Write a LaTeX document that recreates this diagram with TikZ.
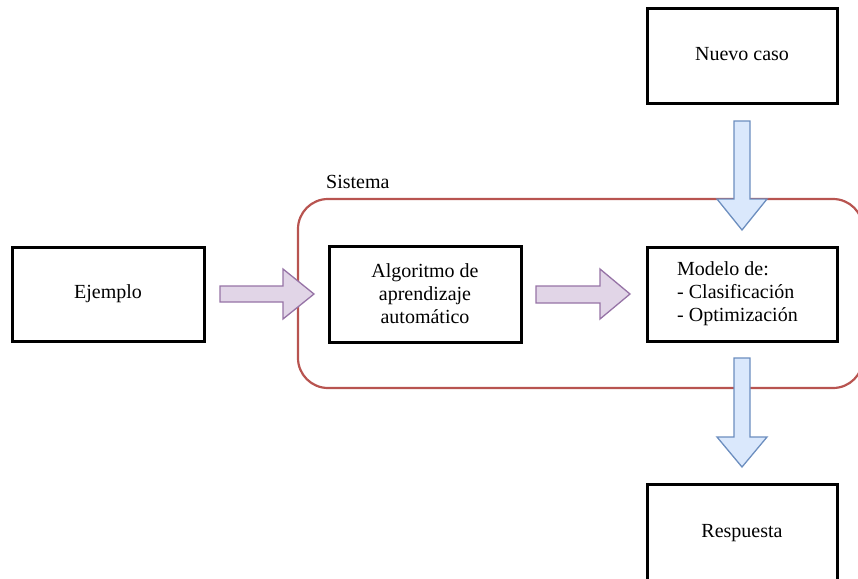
\documentclass[tikz,border=0pt]{standalone}
\usepackage{fontspec}
\setmainfont{Liberation Serif}
\begin{document}
\begin{tikzpicture}[x=1pt,y=-1pt,
  box/.style={draw=black,line width=3pt,fill=white},
  purplearrow/.style={draw={rgb,255:red,150;green,115;blue,166},fill={rgb,255:red,225;green,213;blue,231},line width=1.3pt,line join=miter},
  bluearrow/.style={draw={rgb,255:red,108;green,142;blue,191},fill={rgb,255:red,218;green,232;blue,252},line width=1.3pt,line join=miter},
  sysframe/.style={draw={rgb,255:red,184;green,84;blue,80},line width=2.2pt,rounded corners=30pt},
  lbl/.style={font=\fontsize{20}{23}\selectfont,align=center,inner sep=0pt}]
\useasboundingbox (0,0) rectangle (858,578);
\clip (0,0) rectangle (858,578);

% system frame (its right side sits at the edge of the page)
\draw[sysframe] (298,199) rectangle (863,388);
\node[lbl,anchor=base west] (sislbl) at (326,188) {Sistema};

% boxes
\draw[box] (12,247) rectangle (204,341);
\node[lbl] (ejemplo) at (108,294) {Ejemplo};

\draw[box] (329,246) rectangle (521,342);
\node[lbl] (algo) at (425,294) {Algoritmo de\\aprendizaje\\automático};

\draw[box] (647,247) rectangle (837,341);
\node[lbl,align=left,anchor=west] (modelo) at (677,294) {Modelo de:\\- Clasificación\\- Optimización};

\draw[box] (647,9) rectangle (837,103);
\node[lbl] (nuevo) at (742,54) {Nuevo caso};

\draw[box] (647,484) rectangle (837,600);
\node[lbl] (resp) at (742,533) {Respuesta};

% block arrows
\draw[purplearrow] (220,286) -- (283,286) -- (283,269) -- (314,294) -- (283,319) -- (283,302) -- (220,302) -- cycle;
\draw[purplearrow] (536,286) -- (600,286) -- (600,269) -- (630,294) -- (600,319) -- (600,303) -- (536,303) -- cycle;
\draw[bluearrow] (734,121) -- (750,121) -- (750,199) -- (767,199) -- (742,230) -- (717,199) -- (734,199) -- cycle;
\draw[bluearrow] (734,358) -- (750,358) -- (750,437) -- (767,437) -- (742,467) -- (717,437) -- (734,437) -- cycle;
\end{tikzpicture}
\end{document}
